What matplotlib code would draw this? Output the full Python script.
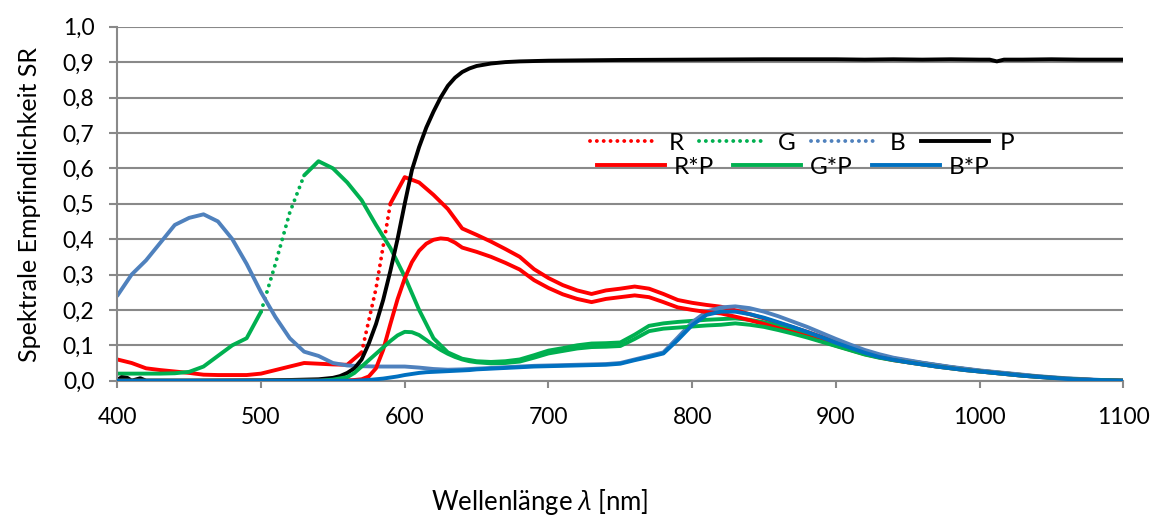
import matplotlib
matplotlib.use("Agg")
import matplotlib.pyplot as plt
from matplotlib.lines import Line2D
from matplotlib.ticker import FuncFormatter
import numpy as np

plt.rcParams['font.family'] = ['Lato', 'DejaVu Sans']
plt.rcParams['mathtext.fontset'] = 'custom'
plt.rcParams['mathtext.rm'] = 'Lato'
plt.rcParams['mathtext.it'] = 'Open Sans:italic'

# ---------------- data ----------------
wl = list(range(400, 1101, 10))

R = [0.06, 0.05, 0.035, 0.03, 0.026, 0.022, 0.017, 0.016, 0.016, 0.016,
     0.02, 0.03, 0.04, 0.05, 0.048, 0.046, 0.045, 0.08, 0.26, 0.5,
     0.575, 0.56, 0.525, 0.485, 0.43, 0.412, 0.393, 0.372, 0.35, 0.315,
     0.29, 0.27, 0.255, 0.245, 0.255, 0.26, 0.266, 0.26, 0.245, 0.228,
     0.22, 0.214, 0.209, 0.199, 0.188, 0.176, 0.163, 0.151, 0.138, 0.124,
     0.11, 0.096, 0.083, 0.072, 0.063, 0.056, 0.05, 0.044, 0.038, 0.033,
     0.028, 0.024, 0.02, 0.016, 0.012, 0.009, 0.006, 0.004, 0.002, 0.001, 0.0]

G = [0.02, 0.02, 0.02, 0.02, 0.021, 0.025, 0.04, 0.07, 0.10, 0.12,
     0.195, 0.33, 0.475, 0.58, 0.62, 0.60, 0.56, 0.51, 0.44, 0.375,
     0.294, 0.20, 0.12, 0.08, 0.062, 0.055, 0.053, 0.055, 0.06, 0.072,
     0.085, 0.092, 0.10, 0.105, 0.106, 0.108, 0.13, 0.155, 0.162, 0.166,
     0.169, 0.172, 0.174, 0.176, 0.172, 0.165, 0.155, 0.145, 0.133, 0.12,
     0.107, 0.094, 0.081, 0.071, 0.063, 0.056, 0.05, 0.044, 0.038, 0.033,
     0.028, 0.024, 0.02, 0.016, 0.012, 0.009, 0.006, 0.004, 0.002, 0.001, 0.0]

B = [0.24, 0.30, 0.34, 0.39, 0.44, 0.46, 0.47, 0.45, 0.40, 0.33,
     0.25, 0.18, 0.12, 0.082, 0.07, 0.05, 0.043, 0.041, 0.04, 0.04,
     0.04, 0.037, 0.033, 0.031, 0.032, 0.034, 0.036, 0.038, 0.04, 0.042,
     0.043, 0.044, 0.045, 0.046, 0.047, 0.05, 0.06, 0.07, 0.08, 0.122,
     0.165, 0.195, 0.207, 0.21, 0.205, 0.195, 0.182, 0.167, 0.152, 0.135,
     0.118, 0.102, 0.087, 0.075, 0.065, 0.058, 0.051, 0.045, 0.039, 0.034,
     0.029, 0.025, 0.021, 0.017, 0.013, 0.01, 0.007, 0.005, 0.003, 0.001, 0.0]

wl_p = [400, 403, 407, 410, 416, 420, 450, 500, 520, 540, 550, 555, 560, 565,
        570, 575, 580, 585, 590, 595, 600, 605, 610, 615, 620, 625, 630, 635,
        640, 645, 650, 660, 670, 680, 700, 750, 800, 850, 880, 900, 920, 940,
        960, 980, 1000, 1007, 1012, 1017, 1030, 1050, 1070, 1100]
P = [0.002, 0.01, 0.008, 0.0, 0.007, 0.0, 0.0, 0.001, 0.002, 0.004, 0.008, 0.013, 0.022, 0.035,
     0.06, 0.105, 0.16, 0.228, 0.31, 0.40, 0.50, 0.595, 0.66, 0.715, 0.76, 0.80, 0.833, 0.856,
     0.872, 0.882, 0.889, 0.896, 0.90, 0.902, 0.904, 0.906, 0.907, 0.908, 0.908, 0.908, 0.907, 0.908,
     0.907, 0.908, 0.907, 0.907, 0.902, 0.907, 0.907, 0.908, 0.907, 0.907]

wl_prod = list(range(400, 561, 10)) + list(range(565, 646, 5)) + list(range(650, 1101, 10))

RP = [0, 0, 0, 0, 0, 0, 0, 0, 0, 0, 0, 0, 0, 0, 0, 0.0005, 0.001,
      0.002, 0.004, 0.012, 0.035, 0.087, 0.16, 0.23, 0.289, 0.335, 0.367, 0.387, 0.398, 0.402, 0.40, 0.39, 0.376, 0.37,
      0.364, 0.35, 0.333, 0.314, 0.284, 0.262, 0.244, 0.231, 0.222, 0.231,
      0.236, 0.241, 0.236, 0.222, 0.207, 0.20, 0.194, 0.19, 0.181, 0.171,
      0.16, 0.148, 0.137, 0.125, 0.112, 0.099, 0.087, 0.075, 0.066, 0.058,
      0.052, 0.046, 0.04, 0.035, 0.03, 0.026, 0.022, 0.018, 0.014, 0.011,
      0.008, 0.005, 0.003, 0.002, 0.001, 0.0]

GP = [0, 0, 0, 0, 0, 0, 0, 0, 0, 0, 0, 0, 0, 0, 0, 0.003, 0.01,
      0.022, 0.04, 0.058, 0.076, 0.094, 0.112, 0.128, 0.138, 0.137, 0.129, 0.115, 0.10, 0.087, 0.076, 0.067, 0.06, 0.055,
      0.052, 0.049, 0.05, 0.054, 0.065, 0.077, 0.084, 0.091, 0.095, 0.096,
      0.098, 0.118, 0.14, 0.147, 0.15, 0.153, 0.156, 0.158, 0.162, 0.158,
      0.152, 0.143, 0.133, 0.122, 0.11, 0.098, 0.086, 0.074, 0.065, 0.058,
      0.052, 0.046, 0.04, 0.035, 0.03, 0.026, 0.022, 0.018, 0.014, 0.011,
      0.008, 0.005, 0.003, 0.002, 0.001, 0.0]

BP = [0, 0, 0, 0, 0, 0, 0, 0, 0, 0, 0, 0, 0, 0, 0, 0, 0,
      0.0, 0.001, 0.002, 0.004, 0.006, 0.009, 0.012, 0.016, 0.019, 0.022, 0.024, 0.025, 0.026, 0.027, 0.028, 0.029, 0.03,
      0.032, 0.034, 0.036, 0.038, 0.04, 0.041, 0.042, 0.043, 0.044, 0.045,
      0.048, 0.058, 0.067, 0.077, 0.115, 0.157, 0.186, 0.195, 0.195, 0.188,
      0.178, 0.165, 0.152, 0.138, 0.123, 0.107, 0.093, 0.079, 0.067, 0.059,
      0.052, 0.046, 0.04, 0.035, 0.03, 0.026, 0.022, 0.018, 0.014, 0.011,
      0.008, 0.005, 0.003, 0.002, 0.001, 0.0]

y_ticks = [i / 10 for i in range(11)]
x_ticks = list(range(400, 1101, 100))

# ---------------- styling ----------------
C_R, C_G, C_B, C_P = '#FF0000', '#00B050', '#4F81BD', '#000000'
C_BP = '#0070C0'
GRID = '#898989'
LW = 2.8
DOT = (0, (0.01, 1.75))

W, H = 1153, 520
fig = plt.figure(figsize=(W / 100, H / 100), dpi=100)
ax = fig.add_axes([117.3 / W, 139.3 / H, (1123.3 - 117.3) / W, 354 / H])
ax.set_xlim(400, 1100)
ax.set_ylim(0, 1.0)


def draw_raw(xs, ys, color, z):
    xs = np.asarray(xs, float)
    ys = np.asarray(ys, float)
    pts = ax.transData.transform(np.column_stack([xs, ys]))
    d = np.diff(pts, axis=0)
    steep = np.abs(d[:, 1]) > 2.45 * np.abs(d[:, 0])
    start = 0
    n = len(steep)
    for i in range(1, n + 1):
        if i == n or steep[i] != steep[start]:
            sx, sy = xs[start:i + 1], ys[start:i + 1]
            if steep[start]:
                ax.plot(sx, sy, color=color, lw=LW, linestyle=DOT,
                        dash_capstyle='round', zorder=z)
            else:
                ax.plot(sx, sy, color=color, lw=LW, solid_joinstyle='round',
                        solid_capstyle='round', zorder=z)
            start = i


draw_raw(wl, R, C_R, 2.0)
draw_raw(wl, G, C_G, 2.1)
draw_raw(wl, B, C_B, 2.2)
ax.plot(wl_p, P, color=C_P, lw=LW, zorder=2.3, solid_joinstyle='round')
ax.plot(wl_prod, RP, color=C_R, lw=LW, zorder=2.4, solid_joinstyle='round')
ax.plot(wl_prod, GP, color=C_G, lw=LW, zorder=2.5, solid_joinstyle='round')
ax.plot(wl_prod, BP, color=C_BP, lw=LW, zorder=2.6, solid_joinstyle='round')

# axes
ax.set_yticks(y_ticks)
ax.set_xticks(x_ticks)
ax.yaxis.set_major_formatter(FuncFormatter(lambda v, p: f"{v:.1f}".replace('.', ',')))
ax.grid(axis='y', color=GRID, lw=1.5)
ax.set_axisbelow(True)
for s in ['top', 'right']:
    ax.spines[s].set_visible(False)
for s in ['left', 'bottom']:
    ax.spines[s].set_color(GRID)
    ax.spines[s].set_linewidth(1.5)
ax.tick_params(axis='y', direction='out', length=5.5, width=1.5, color=GRID,
               labelsize=16.5, pad=11)
ax.tick_params(axis='x', direction='out', length=5, width=1.5, color=GRID,
               labelsize=16.5, pad=14)

fig.text(30 / W, 1 - 205 / H, 'Spektrale Empfindlichkeit SR', rotation=90,
         ha='center', va='center', fontsize=18)
fig.text(540 / W, 1 - 502 / H, r'Wellenlänge $\lambda$ [nm]', ha='center',
         va='center', fontsize=18.5)

# legends
FS = 17.5
fs_px = FS * 100 / 72
h1 = [Line2D([], [], color=C_R, lw=LW, linestyle=DOT, dash_capstyle='round'),
      Line2D([], [], color=C_G, lw=LW, linestyle=DOT, dash_capstyle='round'),
      Line2D([], [], color=C_B, lw=LW, linestyle=DOT, dash_capstyle='round'),
      Line2D([], [], color=C_P, lw=LW)]
h2 = [Line2D([], [], color=C_R, lw=LW),
      Line2D([], [], color=C_G, lw=LW),
      Line2D([], [], color=C_BP, lw=LW)]
leg1 = fig.legend(h1, ['R', 'G', 'B', 'P'], ncol=4, loc='center left',
                  bbox_to_anchor=(590 / W, 1 - 143 / H), frameon=False,
                  fontsize=FS, handlelength=68 / fs_px, handletextpad=11 / fs_px,
                  columnspacing=15 / fs_px, borderpad=0, borderaxespad=0)
leg2 = fig.legend(h2, ['R*P', 'G*P', 'B*P'], ncol=3, loc='center left',
                  bbox_to_anchor=(597 / W, 1 - 167 / H), frameon=False,
                  fontsize=FS, handlelength=68 / fs_px, handletextpad=9 / fs_px,
                  columnspacing=19 / fs_px, borderpad=0, borderaxespad=0)

fig.savefig('out.png', dpi=100)
